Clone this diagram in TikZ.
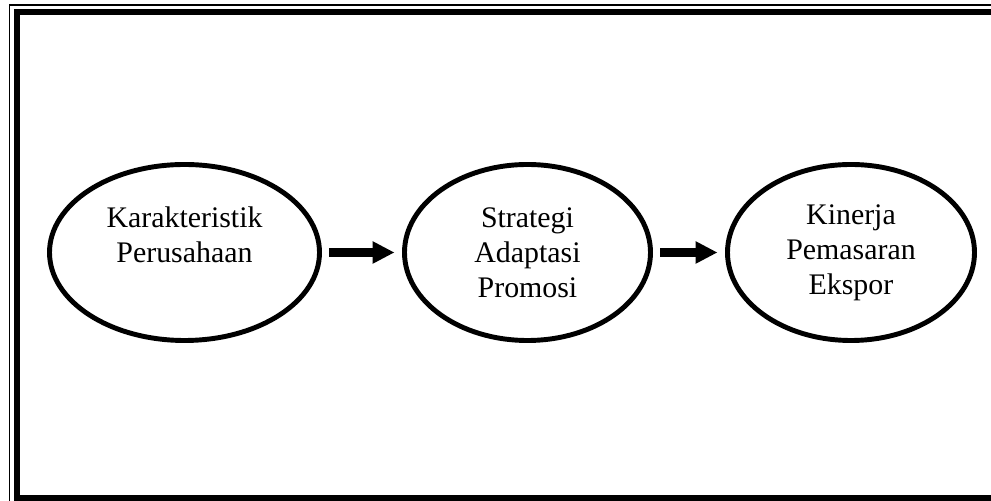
\documentclass[tikz,border=0pt]{standalone}
\usepackage{fontspec}
\setmainfont{Liberation Serif}
\usetikzlibrary{shapes.geometric,arrows.meta}

\begin{document}
\begin{tikzpicture}[
	bubble/.style={draw, ellipse, line width=2.8pt, inner sep=0pt, minimum height=3.52cm, align=center, font=\fontsize{17}{19.9}\selectfont},
	flow/.style={line width=0.18cm, -{Triangle[length=0.44cm,width=0.42cm]}, shorten <=0.15cm, shorten >=0.15cm}
	]
					% Page
					\useasboundingbox (0,0) rectangle (19.82,10.02);
					\clip (0,0) rectangle (19.82,10.02);
					
					% Double frame (runs off the page right and bottom)
					\draw[line width=0.6pt] (0.19,-1) -- (0.19,9.92) -- (21,9.92);
					\draw[line width=0.12cm] (0.345,0.06) rectangle (21,9.78);
					
					% Ellipses
					\node[bubble, minimum width=5.4cm] (karakter) at (3.69,4.97) {Karakteristik\\Perusahaan\\\mbox{}};
					\node[bubble, minimum width=4.92cm] (strategi) at (10.55,4.97) {Strategi\\Adaptasi\\Promosi};
					\node[bubble, minimum width=4.94cm] (kinerja) at (17.02,4.97) {Kinerja\\Pemasaran\\Ekspor};
					
					% Arrows
					\draw[flow] (karakter) -- (strategi);
					\draw[flow] (strategi) -- (kinerja);
				\end{tikzpicture}
\end{document}
